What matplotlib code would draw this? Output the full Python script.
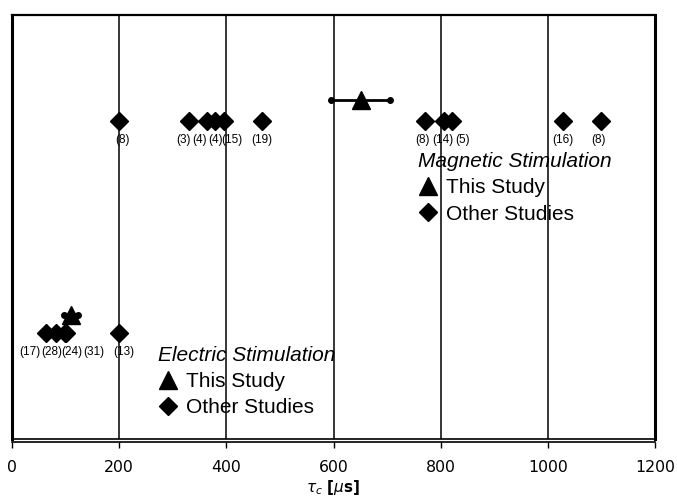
import matplotlib
matplotlib.use("Agg")
import matplotlib.pyplot as plt
from matplotlib.lines import Line2D

# magnetic stimulation
mag_this_x = 652
mag_this_lo = 595
mag_this_hi = 705
mag_other_x = [200, 331, 363, 379, 396, 466, 771, 807, 821, 1029, 1099]
mag_refs = ['(8)', '(3)', '(4)', '(4)', '(15)', '(19)', '(8)', '(14)', '(5)', '(16)', '(8)']

# electric stimulation
el_this_x = 110
el_this_lo = 97
el_this_hi = 124
el_other_x = [63, 82, 99, 101, 200]
el_refs = ['(17)', '(28)', '(24)', '(31)', '(13)']

xticks = [0, 200, 400, 600, 800, 1000, 1200]

# rows on the (hidden) y axis
Y_MAG, Y_MAG_THIS = 0.75, 0.80
Y_EL, Y_EL_THIS = 0.25, 0.292

# label shifts in pixels, to keep crowded refs readable
mag_dx = [3, -6, -7, 0, 8, 0, -3, -2, 11, 0, -2]
el_dx = [-16, -4, 7, 28, 5]

fig = plt.figure(figsize=(6.77, 4.99), dpi=100)
ax = fig.add_axes([12 / 677, 1 - 439 / 499, 643 / 677, 424 / 499])

ax.set_xlim(0, 1200)
ax.set_ylim(0, 1)
for x in xticks[1:-1]:
    ax.axvline(x, color='k', lw=1.1, zorder=1)

# this study, with range bars
for x, lo, hi, y, lw in [(mag_this_x, mag_this_lo, mag_this_hi, Y_MAG_THIS, 2),
                         (el_this_x, el_this_lo, el_this_hi, Y_EL_THIS, 3)]:
    eb = ax.errorbar([x], [y], xerr=[[x - lo], [hi - x]], fmt='^', color='k',
                     ms=13, elinewidth=lw, capsize=2.5, zorder=3)
    for cap in eb[1]:
        cap.set_marker('o')
        cap.set_markersize(4)

ax.plot(mag_other_x, [Y_MAG] * len(mag_other_x), 'D', color='k', ms=9,
        ls='none', zorder=3)
ax.plot(el_other_x, [Y_EL] * len(el_other_x), 'D', color='k', ms=9,
        ls='none', zorder=3)

for xs, refs, dxs, y in [(mag_other_x, mag_refs, mag_dx, Y_MAG),
                         (el_other_x, el_refs, el_dx, Y_EL)]:
    for x, r, dx in zip(xs, refs, dxs):
        ax.annotate(r, (x, y), xytext=(dx, -19), textcoords='offset pixels',
                    ha='center', va='center', fontsize=8.5,
                    family='Liberation Sans')

handles = [Line2D([], [], marker='^', color='k', ls='none', ms=13),
           Line2D([], [], marker='D', color='k', ls='none', ms=9)]
labels = ['This Study', 'Other Studies']
leg_kw = dict(frameon=False, loc='upper left', borderpad=0, borderaxespad=0,
              handlelength=1.0, handletextpad=0.35, labelspacing=0.35,
              alignment='left',
              prop={'family': 'Liberation Sans', 'size': 15},
              title_fontproperties={'family': 'Liberation Sans', 'size': 15,
                                    'style': 'italic'})
leg1 = ax.legend(handles, labels, title='Magnetic Stimulation',
                 bbox_to_anchor=(0.631, 0.677), **leg_kw)
ax.add_artist(leg1)
ax.legend(handles, labels, title='Electric Stimulation',
          bbox_to_anchor=(0.227, 0.220), **leg_kw)

ax.set_yticks([])
ax.set_xticks(xticks)
ax.tick_params(axis='x', length=4, width=1, pad=9, labelsize=11.3)
for s in ['left', 'right']:
    ax.spines[s].set_linewidth(2.2)
ax.spines['top'].set_linewidth(1.6)
ax.spines['bottom'].set_linewidth(1.2)
ax.spines['bottom'].set_position(('outward', 2))
ax.axhline(0, color='k', lw=1.2, clip_on=False, zorder=4)

ax.set_xlabel(r'$\tau_c$ [$\mu$s]', fontsize=11, fontweight='bold', labelpad=2)

fig.savefig('out.png', dpi=100)
